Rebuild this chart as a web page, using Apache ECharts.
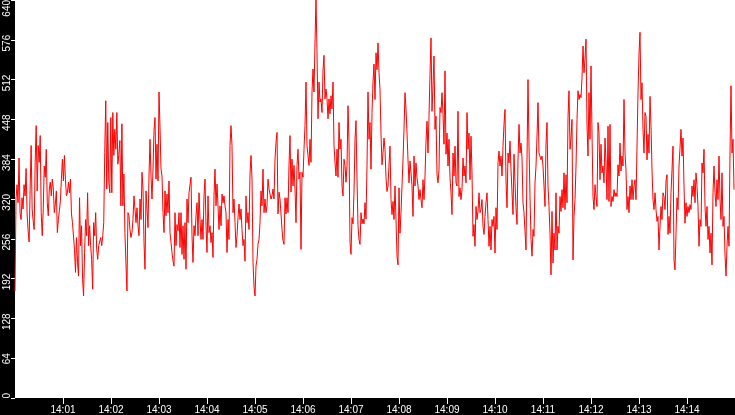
<!DOCTYPE html>
<html style="height: 100%">
  <head>
    <meta charset="utf-8" />
  </head>
  <body style="height: 100%; margin: 0; background: #000">
    <div id="container" style="width: 735px; height: 415px"></div>
    <script
      type="text/javascript"
      src="https://cdn.jsdelivr.net/npm/echarts@6/dist/echarts.min.js"
    ></script>

    <script type="text/javascript">
      var dom = document.getElementById("container");
      var myChart = echarts.init(dom);

      // one array per 150 s, samples evenly spaced inside each block
      // prettier-ignore
      let seg0 = [172, 320, 343, 314, 386, 298, 287, 322, 304, 343, 325, 369, 296, 269, 251, 336, 406, 304, 285, 271, 379, 438, 333, 406, 379, 422, 298, 261, 304, 373, 355, 400, 314, 293, 336, 347, 325, 352, 336, 298, 312, 333, 266, 287, 301, 317, 352, 384, 349, 390, 352, 325, 330, 347, 330, 352, 296, 282, 279, 239, 202, 258, 218, 196, 322, 245, 277, 191, 164, 234, 287, 261, 330, 245, 277, 245, 223, 175, 282, 261, 298, 239, 223, 245, 242, 258, 245, 261, 282, 395, 478, 336, 443, 347, 330, 451, 330, 459, 390, 432, 400, 459, 376, 392, 414, 309, 441, 309, 360, 266, 218, 172, 298, 293, 271, 258, 266, 287, 325];
      // prettier-ignore
      let seg1 = [328, 282, 306, 277, 261, 320, 287, 363, 336, 250, 207, 333, 304, 274, 357, 416, 357, 320, 368, 430, 451, 352, 408, 349, 492, 435, 368, 357, 298, 266, 333, 293, 328, 298, 349, 266, 250, 234, 220, 212, 298, 245, 279, 269, 298, 242, 298, 231, 277, 223, 282, 207, 320, 282, 330, 328, 355, 261, 218, 277, 261, 293, 314, 261, 330, 287, 255, 287, 255, 325, 352, 277, 234, 325, 266, 277, 250, 266, 226, 325, 368, 309, 344, 309, 271, 309, 277, 328, 314, 325, 309, 298, 234, 287, 255, 406, 438, 406, 298, 320, 282, 242, 261, 290, 312, 287, 304, 271, 245, 255, 220, 325, 282, 298, 271, 360, 390, 352, 218, 180];
      // prettier-ignore
      let seg2 = [164, 212, 223, 247, 255, 282, 333, 309, 368, 298, 320, 298, 309, 352, 336, 339, 320, 325, 336, 320, 384, 411, 427, 296, 331, 320, 296, 271, 253, 247, 322, 296, 322, 298, 374, 422, 331, 384, 341, 374, 336, 282, 374, 400, 352, 363, 239, 363, 355, 400, 438, 508, 406, 390, 374, 416, 379, 492, 529, 492, 572, 642, 556, 449, 508, 476, 481, 459, 527, 551, 481, 497, 481, 449, 481, 457, 486, 465, 508, 406, 379, 357, 400, 355, 443, 400, 416, 341, 325, 384, 374, 347, 374, 470, 411, 250, 231, 290, 280, 331, 416, 446, 352, 277, 255, 247, 298, 280, 288, 280, 314, 288, 374, 492, 416, 443, 368, 459, 508, 537];
      // prettier-ignore
      let seg3 = [480, 555, 528, 571, 523, 496, 424, 375, 394, 418, 400, 354, 332, 341, 375, 405, 319, 295, 316, 287, 341, 287, 228, 214, 338, 265, 298, 341, 383, 432, 491, 464, 426, 383, 346, 381, 362, 341, 292, 389, 341, 378, 354, 341, 319, 335, 319, 306, 351, 319, 357, 413, 445, 394, 453, 520, 579, 461, 502, 550, 432, 453, 359, 346, 367, 467, 459, 491, 456, 408, 526, 392, 426, 373, 416, 354, 330, 295, 394, 357, 405, 346, 341, 461, 324, 338, 319, 335, 386, 357, 373, 346, 459, 400, 426, 351, 421, 362, 260, 279, 244, 308, 287, 300, 330, 298, 303, 319, 276, 263, 292, 314, 330, 287, 244, 276, 238, 287, 276, 292];
      // prettier-ignore
      let seg4 = [233, 306, 271, 378, 397, 373, 389, 357, 405, 440, 464, 349, 306, 394, 378, 413, 367, 370, 295, 392, 346, 306, 279, 383, 440, 394, 410, 386, 314, 298, 268, 238, 383, 512, 405, 324, 255, 228, 271, 260, 346, 373, 421, 475, 394, 397, 383, 389, 373, 341, 308, 408, 443, 341, 308, 265, 198, 300, 217, 265, 238, 330, 238, 276, 265, 324, 300, 335, 306, 362, 303, 359, 314, 451, 494, 400, 418, 448, 222, 292, 319, 373, 448, 494, 480, 488, 483, 515, 566, 523, 545, 577, 440, 389, 491, 416, 534, 426, 324, 303, 343, 324, 308, 443, 426, 351, 408, 362, 373, 346, 418, 378, 319, 437, 316, 440, 308, 324, 316, 335];
      // prettier-ignore
      let seg5 = [324, 330, 324, 375, 357, 410, 365, 389, 373, 480, 394, 367, 303, 324, 298, 341, 319, 351, 319, 341, 351, 319, 405, 491, 553, 588, 480, 507, 432, 394, 459, 453, 383, 424, 394, 485, 437, 367, 319, 303, 330, 303, 284, 292, 238, 276, 308, 287, 330, 324, 303, 349, 359, 263, 292, 265, 330, 367, 405, 222, 206, 265, 322, 303, 373, 402, 432, 389, 418, 341, 281, 314, 292, 308, 298, 311, 303, 341, 324, 351, 314, 362, 341, 308, 244, 287, 276, 378, 362, 400, 308, 276, 308, 255, 276, 233, 265, 214, 330, 373, 330, 308, 351, 319, 389, 319, 287, 362, 276, 292, 230, 196, 244, 276, 244, 394, 502, 394, 416, 335];
      let segments = [seg0, seg1, seg2, seg3, seg4, seg5];
      let segSeconds = 150;

      // prettier-ignore
      let tickLabels = ['14:00', '14:01', '14:02', '14:03', '14:04', '14:05', '14:06', '14:07', '14:08', '14:09', '14:10', '14:11', '14:12', '14:13', '14:14', '14:15'];
      let yMax = 640;

      let data = [];
      segments.forEach(function (seg, k) {
        seg.forEach(function (v, i) {
          data.push([k * segSeconds + (i * segSeconds) / seg.length, v]);
        });
      });

      var option = {
        backgroundColor: "#000",
        animation: false,
        grid: {
          left: 15,
          right: 0,
          top: 0,
          bottom: 17,
          show: true,
          backgroundColor: "#fff",
          borderWidth: 0,
          containLabel: false,
          outerBoundsMode: "none",
        },
        xAxis: {
          type: "value",
          min: 0,
          max: 900,
          interval: 60,
          splitLine: { show: false },
          axisLine: { show: false },
          axisTick: {
            show: true,
            length: 6,
            lineStyle: { color: "#fff", width: 1 },
          },
          axisLabel: {
            color: "#fff",
            fontFamily: "Liberation Sans",
            fontSize: 10,
            margin: 7,
            showMinLabel: false,
            showMaxLabel: false,
            formatter: function (value) {
              return tickLabels[Math.round(value / 60)] || "";
            },
          },
        },
        yAxis: {
          type: "value",
          min: 0,
          max: yMax,
          interval: 64,
          splitLine: { show: false },
          axisLine: { show: false },
          axisTick: {
            show: true,
            length: 4,
            lineStyle: { color: "#fff", width: 1 },
          },
          axisLabel: {
            color: "#fff",
            fontFamily: "Liberation Sans",
            fontSize: 10,
            rotate: 90,
            align: "right",
            verticalAlign: "middle",
            margin: 8,
            padding: [0, -5, 0, 0],
            // the top label is kept inside the chart
            formatter: function (value) {
              return value === yMax ? "{top|" + value + "}" : String(value);
            },
            rich: {
              top: {
                color: "#fff",
                fontFamily: "Liberation Sans",
                fontSize: 10,
                padding: [0, 5, 0, 0],
              },
            },
          },
        },
        series: [
          {
            type: "line",
            data: data,
            showSymbol: false,
            sampling: false,
            lineStyle: { color: "#ff0000", width: 1 },
          },
        ],
      };

      myChart.setOption(option);
    </script>
  </body>
</html>
